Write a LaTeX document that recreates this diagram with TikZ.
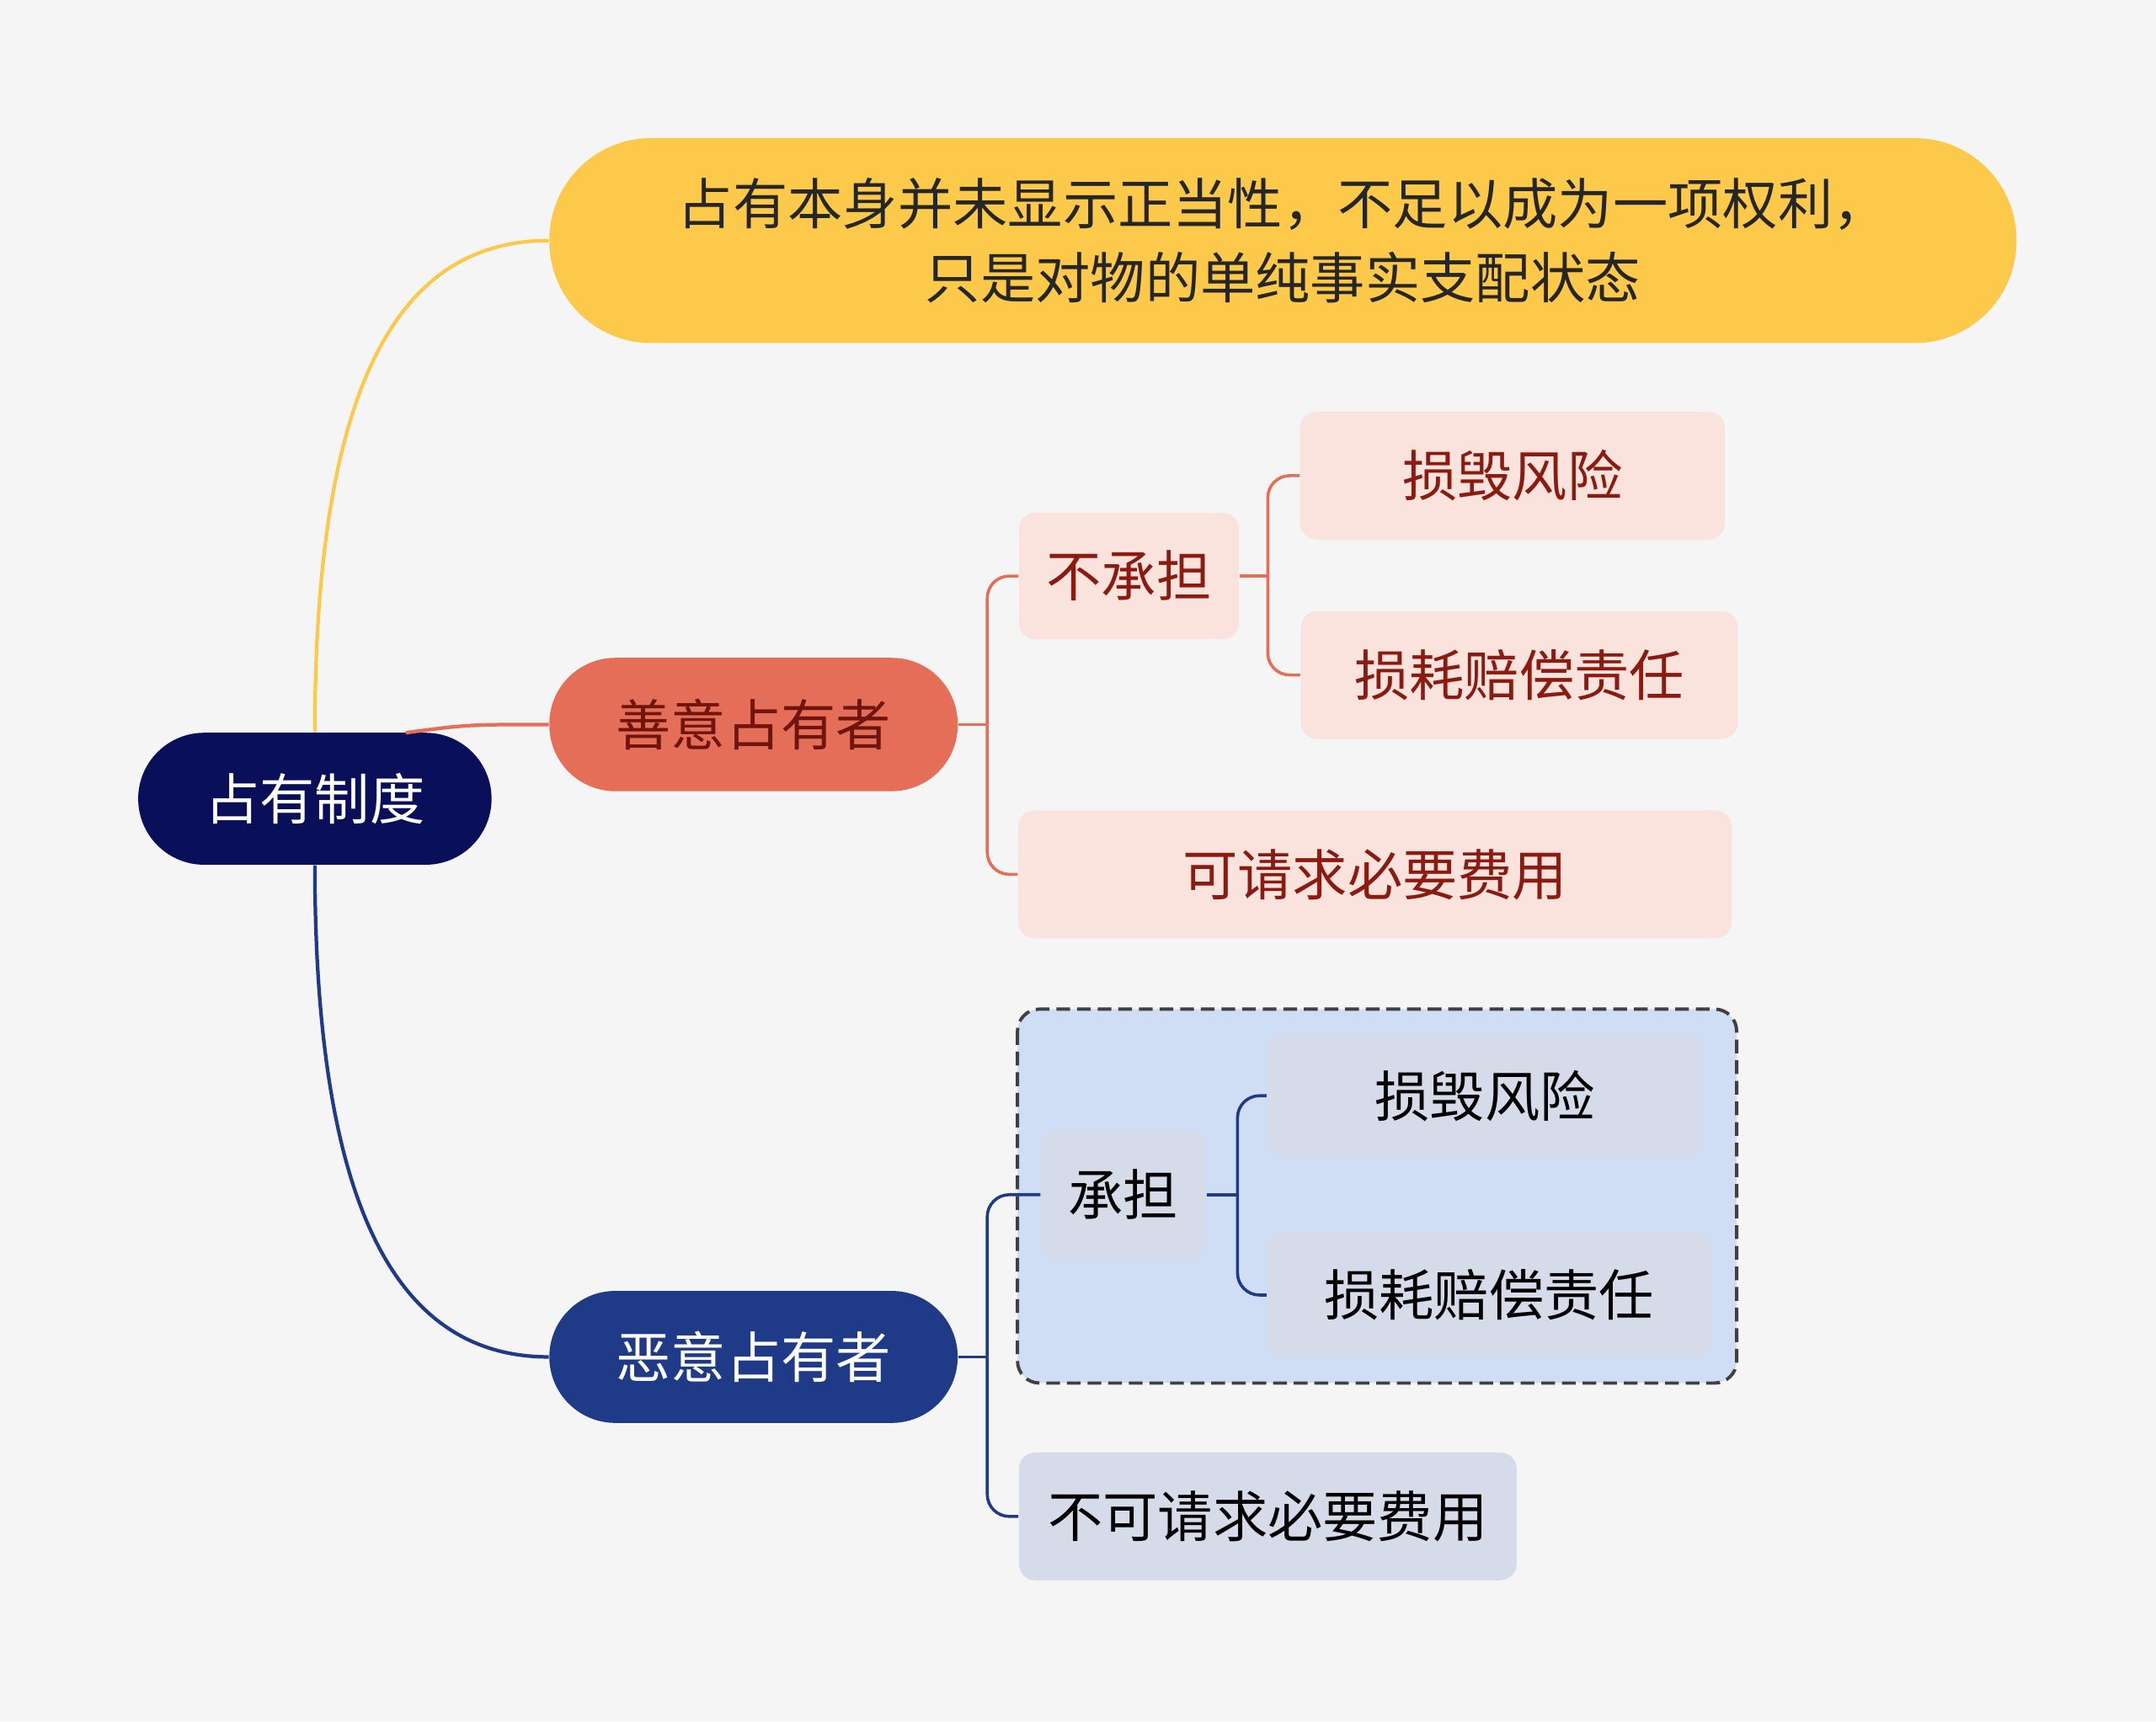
\documentclass[tikz,border=0pt]{standalone}
\usepackage{fontspec}
\setmainfont{Noto Sans CJK SC}
\begin{document}
\begin{tikzpicture}[x=0.5pt,y=-0.5pt,
 box/.style={rounded corners=12pt,inner sep=0pt,align=center},
 big/.style={font=\fontsize{20}{24}\selectfont},
 pinkb/.style={box,fill=pinkf,text=pinkt,big},
 blueb/.style={box,fill=bluef,text=black,big},
 br/.style={rounded corners=8pt,line width=1.1pt}]
\definecolor{bg}{HTML}{F5F5F5}
\definecolor{navy}{HTML}{0A0F5A}
\definecolor{yel}{HTML}{FCC94A}
\definecolor{sal}{HTML}{E56E59}
\definecolor{pinkf}{HTML}{FAE3DC}
\definecolor{pinkt}{HTML}{8B1A10}
\definecolor{dblue}{HTML}{1F3A87}
\definecolor{bluef}{HTML}{D5DBE8}
\definecolor{dashf}{HTML}{D0DEF5}
\fill[bg] (0,0) rectangle (1568,1252);
\useasboundingbox (0,0) rectangle (1568,1252);
\node[box,rounded corners=24pt,fill=navy,text=white,big,minimum width=128.5pt,minimum height=48pt] (root) at (229,581) {占有制度};
\node[box,rounded corners=37pt,fill=yel,text=black!85,font=\fontsize{20}{27}\selectfont,minimum width=533.5pt,minimum height=74.5pt] (y) at (933,175) {占有本身并未显示正当性，不足以成为一项权利，\\只是对物的单纯事实支配状态};
\node[box,rounded corners=24pt,fill=sal,text=pinkt!80!black,big,minimum width=148.5pt,minimum height=48.5pt] (g) at (548,527) {善意占有者};
\node[pinkb,minimum width=80pt,minimum height=46pt,rounded corners=6pt] (n1) at (821,419) {不承担};
\node[pinkb,minimum width=154.5pt,minimum height=46.5pt,rounded corners=6pt] (n2) at (1100,346) {损毁风险};
\node[pinkb,minimum width=159pt,minimum height=46.5pt,rounded corners=6pt] (n3) at (1105,491) {损耗赔偿责任};
\node[pinkb,minimum width=259.5pt,minimum height=46.5pt,rounded corners=6pt] (n4) at (1000,636) {可请求必要费用};
\node[box,rounded corners=24pt,fill=dblue,text=white,big,minimum width=148.5pt,minimum height=48pt] (b) at (548,987) {恶意占有者};
\draw[dash pattern=on 5pt off 2.5pt,line width=1.2pt,draw=black!75,fill=dashf,rounded corners=8pt] (740,734) rectangle (1263,1006);
\node[blueb,minimum width=60pt,minimum height=46.5pt,rounded corners=6pt] (m1) at (817,869) {承担};
\node[blueb,minimum width=158.5pt,minimum height=46pt,rounded corners=6pt] (m2) at (1080,797) {损毁风险};
\node[blueb,minimum width=161.5pt,minimum height=46pt,rounded corners=6pt] (m3) at (1083,942) {损耗赔偿责任};
\node[blueb,minimum width=181pt,minimum height=46.5pt,rounded corners=6pt] (m4) at (922,1103) {不可请求必要费用};
\draw[yel,line width=1.3pt] (root.north) .. controls (229,260) and (300,175) .. (y.west);
\draw[sal,line width=1.3pt] (295,533) .. controls (340,527) .. (g.west);
\draw[dblue,line width=1.3pt] (root.south) .. controls (229,900) and (300,987) .. (b.west);
\draw[sal,br] (g.east) -- (718,527) coordinate (j1);
\draw[sal,br] (j1) |- (n1.west); \draw[sal,br] (j1) |- (n4.west);
\draw[sal,br] (n1.east) -- (922,419) coordinate (j2);
\draw[sal,br] (j2) |- (n2.west); \draw[sal,br] (j2) |- (n3.west);
\draw[dblue,br] (b.east) -- (718,987) coordinate (k1);
\draw[dblue,br] (k1) |- (m1.west); \draw[dblue,br] (k1) |- (m4.west);
\draw[dblue,br] (m1.east) -- (900,869) coordinate (k2);
\draw[dblue,br] (k2) |- (m2.west); \draw[dblue,br] (k2) |- (m3.west);
\end{tikzpicture}
\end{document}
